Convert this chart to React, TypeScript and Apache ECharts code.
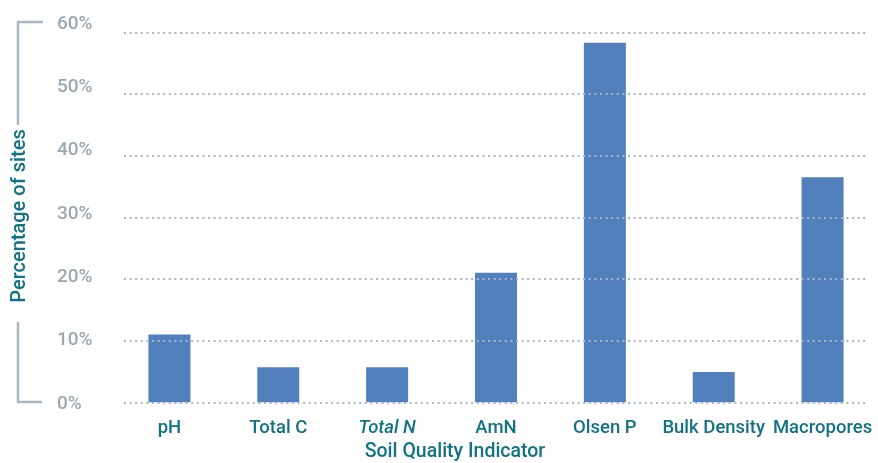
import React, { useEffect, useRef } from "react";
import * as echarts from "echarts";

const categories = ["pH", "Total C", "Total N", "AmN", "Olsen P", "Bulk Density", "Macropores"];
const percentSites = [11, 5.7, 5.7, 21, 58.3, 4.9, 36.5];
const yTicks = [0, 10, 20, 30, 40, 50, 60];

const FONT = "Roboto";
const TEAL = "#127285";
const GREY = "#9ba8b1";
const LINE = "#a8b7c1";

export default function App() {
  const ref = useRef<HTMLDivElement>(null);
  useEffect(() => {
    document.body.style.margin = "0";
    const chart = echarts.init(ref.current!, undefined, { renderer: "svg" });
    const yMin = yTicks[0];
    const yMax = yTicks[yTicks.length - 1];
    const step = yTicks[1] - yTicks[0];
    chart.setOption({
      animation: false,
      grid: [
        { left: 124, right: 12, top: 32.3, height: 370 },
        { left: 115, width: 762, top: 32.3, height: 370 },
        { left: 57, width: 10, top: 22, height: 380 },
      ],
      xAxis: [
        { gridIndex: 0, type: "category", data: categories, show: false },
        {
          gridIndex: 1,
          type: "category",
          data: categories.map((c) => ({
            value: c,
            textStyle: c === "Total N" ? { fontStyle: "italic", padding: [0, 0, 8, 0] } : c === "Olsen P" ? { padding: [0, 0, 6, 0] } : {},
          })),
          axisLine: { show: false },
          axisTick: { show: false },
          axisLabel: {
            margin: 15,
            color: TEAL,
            fontFamily: FONT,
            fontWeight: 500,
            fontSize: 18.5,
            interval: 0,
          },
        },
        { gridIndex: 2, type: "category", data: categories, show: false },
      ],
      yAxis: [
        {
          gridIndex: 0,
          type: "value",
          min: yMin,
          max: yMax,
          interval: step,
          z: 5,
          axisLine: { show: false },
          axisTick: { show: false },
          axisLabel: { show: false },
          splitLine: { show: true, lineStyle: { color: LINE, width: 2, type: [2, 3.6] } },
        },
        { gridIndex: 1, type: "value", min: yMin, max: yMax, interval: step, show: false },
        {
          gridIndex: 2,
          type: "value",
          min: yMin,
          max: yMax,
          interval: step,
          axisLine: { show: false },
          axisTick: { show: false },
          splitLine: { show: false },
          axisLabel: {
            inside: true,
            margin: 0,
            formatter: "{value}%",
            color: GREY,
            fontFamily: FONT,
            fontWeight: 500,
            fontSize: 19,
          },
        },
      ],
      series: [
        {
          type: "bar",
          xAxisIndex: 1,
          yAxisIndex: 1,
          data: percentSites,
          barWidth: 42,
          itemStyle: { color: "#5180bc" },
        },
      ],
      graphic: [
        {
          type: "polyline",
          shape: { points: [[43, 22], [18, 22], [18, 125]] },
          style: { stroke: LINE, lineWidth: 2.5, fill: null },
        },
        {
          type: "polyline",
          shape: { points: [[18, 322], [18, 402], [42, 402]] },
          style: { stroke: LINE, lineWidth: 2.5, fill: null },
        },
        {
          type: "text",
          x: 18,
          y: 216,
          rotation: Math.PI / 2,
          style: {
            text: "Percentage of sites",
            fill: TEAL,
            font: `500 20px ${FONT}`,
            align: "center",
            verticalAlign: "middle",
          },
        },
        {
          type: "text",
          x: 455,
          y: 450,
          style: {
            text: "Soil Quality Indicator",
            fill: TEAL,
            font: `500 19.5px ${FONT}`,
            align: "center",
            verticalAlign: "middle",
          },
        },
      ],
    });
    return () => chart.dispose();
  }, []);
  return <div ref={ref} style={{ position: "fixed", left: 0, top: 0, width: 878, height: 463 }} />;
}
